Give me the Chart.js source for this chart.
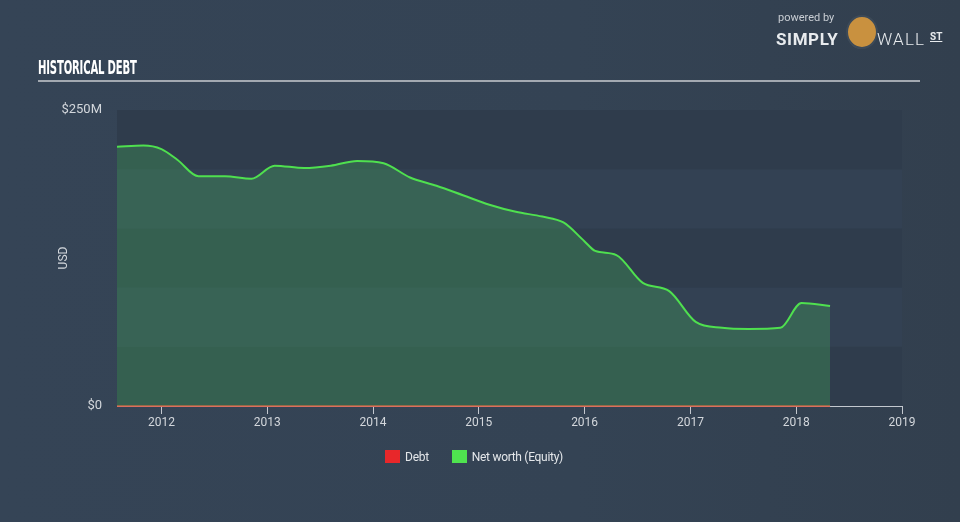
<!DOCTYPE html>
<html>
<head>
<meta charset="utf-8">
<script src="https://cdn.jsdelivr.net/npm/chart.js@4"></script>
<style>
  body { margin: 0; background: #344354; }
  #wrap { position: relative; width: 960px; height: 522px; overflow: hidden;
    background: linear-gradient(90deg, #354456 0%, #344354 60%, #323f4e 100%); }
  #myChart { position: absolute; left: 0; top: 0; }
  #title { position: absolute; left: 38px; top: 56px; color: #fff; font: bold 19px "DejaVu Sans Condensed", "DejaVu Sans"; letter-spacing: -0.3px; transform: scaleX(0.59); transform-origin: left; white-space: nowrap; }
  #rule { position: absolute; left: 38px; top: 80px; width: 882px; height: 2px; background: #a3a9b1; }
  #legend { position: absolute; top: 450px; left: -6px; width: 960px; text-align: center; font: 12px "Roboto", sans-serif; color: #e4e7ea; }
  #legend span.box { display: inline-block; width: 15px; height: 13px; vertical-align: -2px; margin-right: 5px; }
  #legend span.item { margin: 0 10px; letter-spacing: -0.3px; }
  #logo { position: absolute; left: 776px; top: 11px; color: #e8ebee; font-family: "Roboto", sans-serif; }
  #logo .pw { position: absolute; left: 2px; top: 0; font-size: 11px; color: #c9ced4; white-space: nowrap; }
  #logo .simply { position: absolute; left: 0; top: 18px; font-size: 17px; font-weight: bold; letter-spacing: 0.6px; }
  #logo .bull { position: absolute; left: 70px; top: 4px; width: 28px; height: 30px; border-radius: 50%; background: #c9913f; border: 2px solid #3d4a58; }
  #logo .suit { position: absolute; left: 72px; top: 24px; width: 26px; height: 14px; border-radius: 0 0 13px 13px; background: #4a4f57; }
  #logo .wall { position: absolute; left: 101px; top: 18px; font-size: 17px; font-weight: 300; letter-spacing: 1.2px; }
  #logo .st { position: absolute; left: 154px; top: 20px; font-size: 10px; font-weight: bold; text-decoration: underline; }
</style>
</head>
<body>
<div id="wrap">
  <canvas id="myChart" width="960" height="522"></canvas>
  <div id="title">HISTORICAL DEBT</div>
  <div id="rule"></div>
  <div id="logo">
    <div class="pw">powered by</div>
    <div class="simply">SIMPLY</div>
    <div class="suit"></div>
    <div class="bull"></div>
    <div class="wall">WALL</div>
    <div class="st">ST</div>
  </div>
  <div id="legend">
    <span class="item"><span class="box" style="background:#e8272a"></span>Debt</span>
    <span class="item"><span class="box" style="background:#4fe34f"></span>Net worth (Equity)</span>
  </div>
</div>
<script>
// dates as decimal years
var dates = [2011.58, 2011.83, 2012.0, 2012.15, 2012.35, 2012.6, 2012.85, 2013.07, 2013.35, 2013.6,
             2013.85, 2014.1, 2014.35, 2014.6, 2014.85, 2015.1, 2015.35, 2015.6, 2015.8, 2016.0,
             2016.1, 2016.3, 2016.55, 2016.8, 2017.05, 2017.3, 2017.55, 2017.85, 2018.05, 2018.32];
// net worth, $M
var equity = [219, 220, 217, 208, 194, 194, 192, 203, 201, 203,
              207, 205, 193, 186, 178, 170, 164, 160, 155, 139,
              131, 127.5, 104, 97, 71, 66, 65, 66, 87, 84.5];
// debt, $M
var debt = [0, 0, 0, 0, 0, 0, 0, 0, 0, 0,
            0, 0, 0, 0, 0, 0, 0, 0, 0, 0,
            0, 0, 0, 0, 0, 0, 0, 0, 0, 0];
var xTicks = [2012, 2013, 2014, 2015, 2016, 2017, 2018, 2019];
var yTicks = [0, 250];

function pts(vals) {
    return dates.map(function(d, i) { return { x: d, y: vals[i] }; });
}

// alternating horizontal bands behind the plot
var bands = {
    id: 'bands',
    beforeDatasetsDraw: function(chart) {
        var ctx = chart.ctx, a = chart.chartArea, y = chart.scales.y;
        ctx.save();
        for (var v = 0; v < 250; v += 50) {
            var top = y.getPixelForValue(v + 50), bot = y.getPixelForValue(v);
            ctx.fillStyle = (v / 50) % 2 === 0 ? '#2f3c4c' : '#334153';
            ctx.fillRect(a.left, top, a.right - a.left, bot - top);
        }
        ctx.restore();
    }
};

var ctx = document.getElementById('myChart').getContext('2d');
var myChart = new Chart(ctx, {
    type: 'line',
    data: {
        datasets: [{
            label: 'Net worth (Equity)',
            data: pts(equity),
            borderColor: '#4fe04f',
            backgroundColor: 'rgba(72, 190, 95, 0.28)',
            borderWidth: 2,
            fill: 'origin',
            pointRadius: 0,
            cubicInterpolationMode: 'monotone'
        }, {
            label: 'Debt',
            data: pts(debt),
            borderColor: '#e4503a',
            borderWidth: 1.5,
            fill: false,
            pointRadius: 0,
            clip: { left: 0, right: 0, top: 0, bottom: 3 }
        }]
    },
    options: {
        responsive: false,
        animation: false,
        layout: { padding: { top: 110, right: 58, left: 0, bottom: 0 } },
        plugins: { legend: { display: false }, tooltip: { enabled: false } },
        scales: {
            x: {
                type: 'linear',
                min: 2011.58,
                max: 2019,
                afterFit: function(s) { s.height = 116; },
                afterBuildTicks: function(s) { s.ticks = xTicks.map(function(v) { return { value: v }; }); },
                ticks: {
                    color: '#d3d7dc',
                    font: { family: 'Roboto', size: 12 },
                    padding: 2,
                    maxRotation: 0,
                    callback: function(v) { return String(v); }
                },
                grid: { drawOnChartArea: false, drawTicks: true, tickLength: 8, color: '#c3c8cf' },
                border: { display: true, color: '#c3c8cf', width: 1 }
            },
            y: {
                min: 0,
                max: 250,
                afterFit: function(s) { s.width = 117; },
                afterBuildTicks: function(s) { s.ticks = yTicks.map(function(v) { return { value: v }; }); },
                ticks: {
                    color: '#d3d7dc',
                    font: { family: 'Roboto', size: 13 },
                    padding: 7,
                    callback: function(v) { return v === 0 ? '$0' : '$' + v + 'M'; }
                },
                grid: { display: false },
                border: { display: false },
                title: { display: true, text: 'USD', color: '#d3d7dc', font: { family: 'Roboto', size: 12 }, padding: { top: 57 } }
            }
        }
    },
    plugins: [bands]
});
</script>
</body>
</html>
